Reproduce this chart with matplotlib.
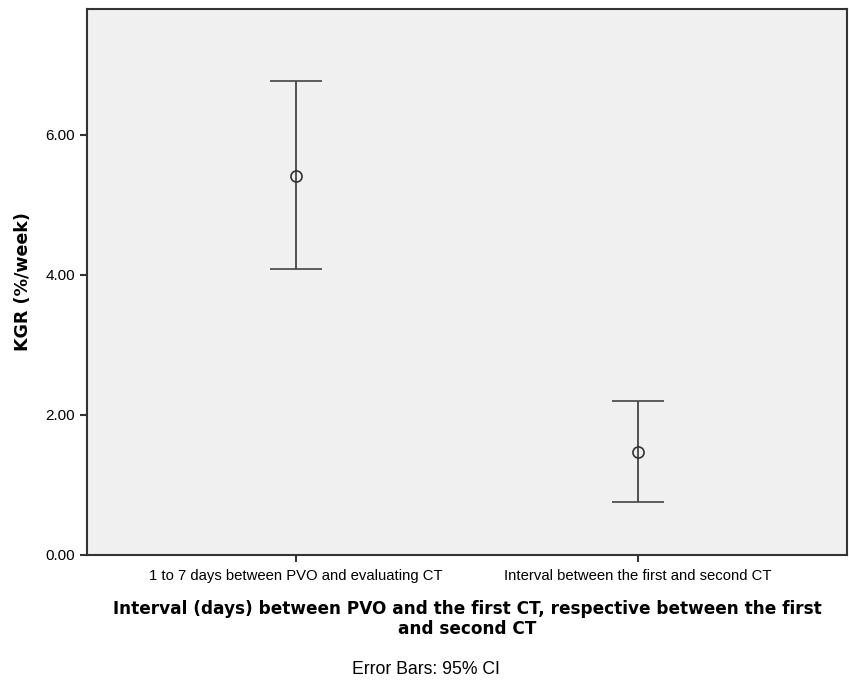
import numpy as np
import matplotlib.pyplot as plt

groups = ['1 to 7 days between PVO and evaluating CT',
          'Interval between the first and second CT']
means = [5.41, 1.47]
ci_low = [4.08, 0.76]
ci_high = [6.77, 2.20]
yticks = [0.0, 2.0, 4.0, 6.0]

fig = plt.figure(figsize=(8.49, 6.8), dpi=100)
ax = fig.add_axes([87/849, 1 - 555/680, 760/849, 546/680])
ax.set_facecolor('#f0f0f0')

x = np.arange(len(groups))
means = np.array(means)
yerr = np.array([means - np.array(ci_low), np.array(ci_high) - means])
ax.errorbar(x, means, yerr=yerr, fmt='o', mfc='none', mec='#333333', ms=8,
            mew=1.2, ecolor='#444444', elinewidth=1.3, capsize=19, capthick=1.3)

ax.set_xlim(-0.61, 1.61)
ax.set_ylim(0, 7.8)
ax.set_yticks(yticks)
ax.set_yticklabels(['%.2f' % v for v in yticks], fontfamily='Liberation Sans', fontsize=11)
ax.set_xticks(x)
ax.set_xticklabels(groups, fontfamily='Liberation Sans', fontsize=10.7)
ax.tick_params(axis='both', color='#333333', width=1.5, length=5)
ax.tick_params(axis='x', pad=5)
for s in ax.spines.values():
    s.set_color('#333333')
    s.set_linewidth(1.5)

ax.set_ylabel('KGR (%/week)', fontfamily='DejaVu Sans', fontweight='bold', fontsize=12.6, labelpad=10)
ax.set_xlabel('Interval (days) between PVO and the first CT, respective between the first\nand second CT',
              fontfamily='DejaVu Sans', fontweight='bold', fontsize=12.2, labelpad=12, linespacing=1.15)

fig.text(426/849, 1 - 669/680, 'Error Bars: 95% CI', ha='center', va='center',
         fontfamily='Liberation Sans', fontsize=12.7)

fig.savefig('out.png', dpi=100)
